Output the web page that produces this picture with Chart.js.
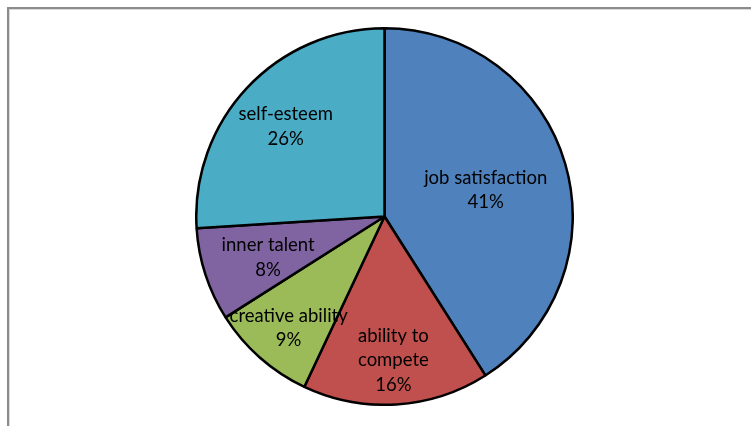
<!DOCTYPE html>
<html>
<head>
<meta charset="utf-8">
<script src="https://cdn.jsdelivr.net/npm/chart.js@4"></script>
<style>
  html, body { margin: 0; padding: 0; background: #fff; overflow: hidden; }
  body { width: 751px; height: 426px; position: relative; }
  #frame {
    position: absolute; left: 7px; top: 7px; width: 800px; height: 500px;
    border-top: 2px solid #8c8c8c; border-left: 2px solid #8c8c8c;
    box-shadow: inset 1px 1px 0 #d9d9d9;
  }
  #wrap { position: absolute; left: 195px; top: 27px; width: 379px; height: 379px; }
</style>
</head>
<body>
<div id="frame"></div>
<div id="wrap"><canvas id="pie"></canvas></div>
<script>
// categories and values (percent)
const categories = ['job satisfaction', 'ability to compete', 'creative ability', 'inner talent', 'self-esteem'];
const labelLines = [['job satisfaction'], ['ability to', 'compete'], ['creative ability'], ['inner talent'], ['self-esteem']];
const values = [41, 16, 9, 8, 26];
const colors = ['#4F81BD', '#C0504D', '#9BBB59', '#8064A2', '#4BACC6'];
// how far out each label sits, as a fraction of the radius
const labelDist = [0.56, 0.75, 0.77, 0.65, 0.72];

// draws category name + percent inside each slice
const sliceLabels = {
    id: 'sliceLabels',
    afterDatasetsDraw(chart) {
        const ctx = chart.ctx;
        const meta = chart.getDatasetMeta(0);
        ctx.save();
        ctx.font = '18.5px Lato, "Open Sans", sans-serif';
        ctx.fillStyle = '#000';
        ctx.textAlign = 'center';
        ctx.textBaseline = 'middle';
        meta.data.forEach((arc, i) => {
            const mid = (arc.startAngle + arc.endAngle) / 2;
            const r = arc.outerRadius * labelDist[i];
            const x = arc.x + Math.cos(mid) * r;
            const y = arc.y + Math.sin(mid) * r + 3;
            const lines = labelLines[i].concat([values[i] + '%']);
            const lh = 24.5;
            const top = y - (lines.length - 1) * lh / 2;
            lines.forEach((t, k) => ctx.fillText(t, x, top + k * lh));
        });
        ctx.restore();
    }
};

const ctx = document.getElementById('pie').getContext('2d');
const chart = new Chart(ctx, {
    type: 'pie',
    data: {
        labels: categories,
        datasets: [{
            data: values,
            backgroundColor: colors,
            borderColor: '#000',
            borderWidth: 2.5,
            hoverOffset: 0
        }]
    },
    options: {
        responsive: true,
        maintainAspectRatio: false,
        animation: false,
        layout: { padding: 0 },
        plugins: {
            legend: { display: false },
            tooltip: { enabled: false }
        }
    },
    plugins: [sliceLabels]
});
</script>
</body>
</html>
